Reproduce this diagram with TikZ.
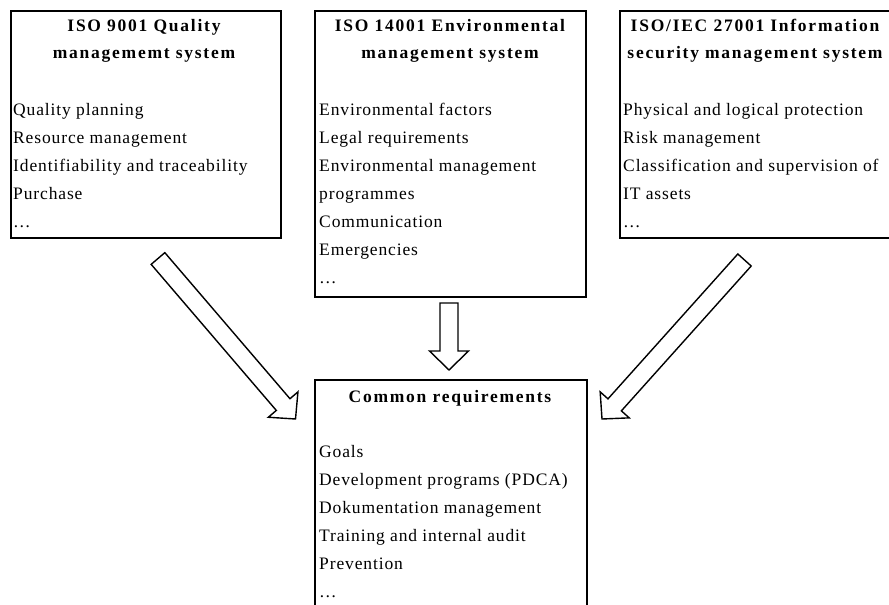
\documentclass[tikz,border=0pt]{standalone}
\usepackage{fontspec}
\setmainfont{Liberation Serif}
\newfontfamily\bodyfont[LetterSpace=5]{Liberation Serif}
\newfontfamily\titlefont[LetterSpace=10]{Liberation Serif}
\usetikzlibrary{calc}
\newcommand\blkarrow[3]{% #1 tail, #2 tip, #3 head base
  \coordinate (#3) at ($(#2)!19pt!(#1)$);
  \draw[blockarrow] ($(#1)!9pt!90:(#2)$) -- ($(#3)!9pt!-90:(#1)$) -- ($(#3)!19.5pt!-90:(#1)$) -- (#2)
    -- ($(#3)!19.5pt!90:(#1)$) -- ($(#3)!9pt!90:(#1)$) -- ($(#1)!9pt!-90:(#2)$) -- cycle;
}
\tikzset{
  box/.style={draw=black, line width=2pt, rectangle, inner sep=0pt, anchor=north west},
  title/.style={font=\titlefont\fontsize{17.5}{27}\selectfont\bfseries, inner sep=0pt, align=center, anchor=base},
  body/.style={font=\bodyfont\fontsize{17.5}{28}\selectfont, inner sep=0pt, align=left, anchor=base west},
  blockarrow/.style={draw=black, line width=1.4pt, fill=white, line join=miter},
}
\begin{document}
\begin{tikzpicture}[x=1pt, y=-1pt]
\clip (0,0) rectangle (889,605);
\fill[white] (0,0) rectangle (889,605);
% boxes
\node[box, minimum width=270pt, minimum height=227pt] (b1) at (9.5,9.5) {};
\node[box, minimum width=271pt, minimum height=286pt] (b2) at (314,9.5) {};
\node[box, minimum width=276pt, minimum height=227pt] (b3) at (619,9.5) {};
\node[box, minimum width=272pt, minimum height=245pt] (b4) at (314,379) {};
% titles (anchor = baseline of last line)
\node[title] (t1) at (144,58) {ISO 9001 Quality\\managememt system};
\node[title] (t2) at (450,58) {ISO 14001 Environmental\\management system};
\node[title] (t3) at (755,58) {ISO/IEC 27001 Information\\security management system};
\node[title] (t4) at (450,402) {Common requirements};
% bodies (anchor = baseline of last line)
\node[body] (l1) at (13,227) {Quality planning\\Resource management\\Identifiability and traceability\\Purchase\\\dots};
\node[body] (l2) at (319,283) {Environmental factors\\Legal requirements\\Environmental management\\programmes\\Communication\\Emergencies\\\dots};
\node[body] (l3) at (623,227) {Physical and logical protection\\Risk management\\Classification and supervision of\\IT assets\\\dots};
\node[body] (l4) at (319,597) {Goals\\Development programs (PDCA)\\Dokumentation management\\Training and internal audit\\Prevention\\\dots};
% arrows
\coordinate (aT1) at (158,258.5);
\coordinate (aP1) at (295.5,419);
\coordinate (aT2) at (449,303);
\coordinate (aP2) at (449,370);
\coordinate (aT3) at (744.5,260);
\coordinate (aP3) at (602,419);
\blkarrow{aT1}{aP1}{aB1}
\blkarrow{aT2}{aP2}{aB2}
\blkarrow{aT3}{aP3}{aB3}
\end{tikzpicture}
\end{document}
